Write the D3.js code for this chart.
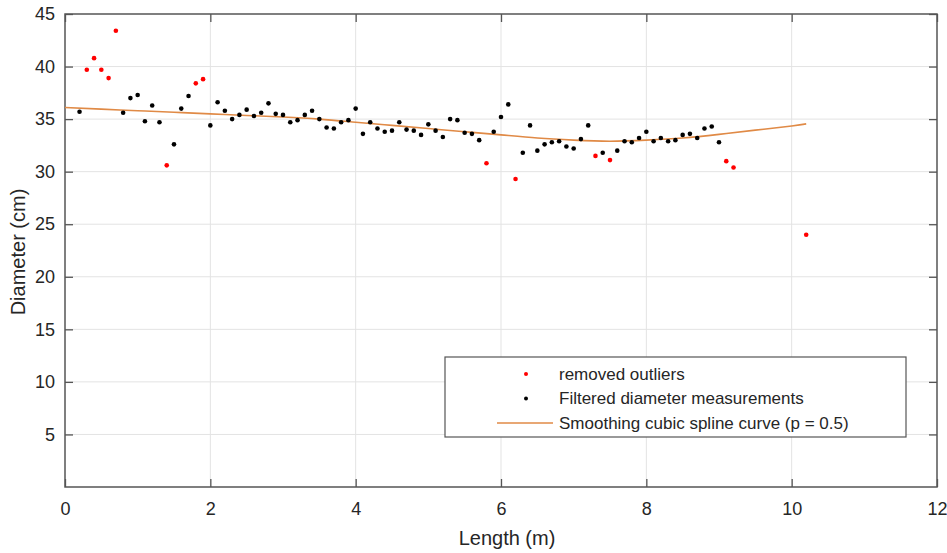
<!DOCTYPE html>
<html>
<head>
<meta charset="utf-8">
<script src="https://cdn.jsdelivr.net/npm/d3@7"></script>
<style>
  body { margin: 0; background: #fff; }
  svg { font-family: "Liberation Sans", Arial, sans-serif; }
</style>
</head>
<body>
<svg id="chart" width="947" height="553"></svg>
<script>
// filtered diameter measurements (m, cm)
const keptX = [0.2, 0.8, 0.9, 1.0, 1.1, 1.2, 1.3, 1.5, 1.6, 1.7, 2.0, 2.1, 2.2, 2.3, 2.4,
  2.5, 2.6, 2.7, 2.8, 2.9, 3.0, 3.1, 3.2, 3.3, 3.4, 3.5, 3.6, 3.7, 3.8, 3.9,
  4.0, 4.1, 4.2, 4.3, 4.4, 4.5, 4.6, 4.7, 4.8, 4.9, 5.0, 5.1, 5.2, 5.3, 5.4,
  5.5, 5.6, 5.7, 5.9, 6.0, 6.1, 6.3, 6.4, 6.5, 6.6, 6.7, 6.8, 6.9, 7.0, 7.1,
  7.2, 7.4, 7.6, 7.7, 7.8, 7.9, 8.0, 8.1, 8.2, 8.3, 8.4, 8.5, 8.6, 8.7, 8.8,
  8.9, 9.0];
const keptY = [35.7, 35.6, 37.0, 37.3, 34.8, 36.3, 34.7, 32.6, 36.0, 37.2, 34.4, 36.6, 35.8, 35.0, 35.4,
  35.9, 35.3, 35.6, 36.5, 35.5, 35.4, 34.7, 34.9, 35.4, 35.8, 35.0, 34.2, 34.1, 34.7, 34.9,
  36.0, 33.6, 34.7, 34.1, 33.8, 33.9, 34.7, 34.0, 33.9, 33.5, 34.5, 33.9, 33.3, 35.0, 34.9,
  33.7, 33.6, 33.0, 33.8, 35.2, 36.4, 31.8, 34.4, 32.0, 32.6, 32.8, 32.9, 32.4, 32.2, 33.1,
  34.4, 31.8, 32.0, 32.9, 32.8, 33.2, 33.8, 32.9, 33.2, 32.9, 33.0, 33.5, 33.6, 33.2, 34.1,
  34.3, 32.8];

// removed outliers
const outX = [0.3, 0.4, 0.5, 0.6, 0.7, 1.4, 1.8, 1.9, 5.8, 6.2, 7.3, 7.5, 9.1, 9.2, 10.2];
const outY = [39.7, 40.8, 39.7, 38.9, 43.4, 30.6, 38.4, 38.8, 30.8, 29.3, 31.5, 31.1, 31.0, 30.4, 24.0];

// smoothing spline samples
const splX = [0, 0.5, 1, 1.5, 2, 2.5, 3, 3.5, 4, 4.5, 5, 5.5, 6, 6.5, 7, 7.5, 8, 8.5, 9, 9.5, 10, 10.2];
const splY = [36.1, 35.95, 35.8, 35.65, 35.5, 35.35, 35.2, 35.0, 34.7, 34.4, 34.1, 33.8, 33.5, 33.2,
  33.0, 32.9, 33.0, 33.2, 33.55, 33.95, 34.35, 34.55];

const xTicks = [0, 2, 4, 6, 8, 10, 12];
const yTicks = [5, 10, 15, 20, 25, 30, 35, 40, 45];

const mLeft = 65, mRight = 937, mTop = 14, mBottom = 487;
const axisColor = "#555";

const svg = d3.select("#chart");
const x = d3.scaleLinear().domain([0, 12]).range([mLeft, mRight]);
const y = d3.scaleLinear().domain([0, 45]).range([mBottom, mTop]);

// grid
svg.append("g").selectAll("line").data(xTicks.slice(1, -1)).join("line")
  .attr("x1", d => x(d)).attr("x2", d => x(d))
  .attr("y1", mTop).attr("y2", mBottom)
  .attr("stroke", "#e3e3e3").attr("stroke-width", 1);
svg.append("g").selectAll("line").data(yTicks.slice(0, -1)).join("line")
  .attr("y1", d => y(d)).attr("y2", d => y(d))
  .attr("x1", mLeft).attr("x2", mRight)
  .attr("stroke", "#e3e3e3").attr("stroke-width", 1);

// axes (ticks inward, box all round)
const axB = svg.append("g").attr("transform", `translate(0,${mBottom})`)
  .call(d3.axisBottom(x).tickValues(xTicks).tickSize(-8).tickPadding(15).tickFormat(d3.format("d")));
const axT = svg.append("g").attr("transform", `translate(0,${mTop})`)
  .call(d3.axisTop(x).tickValues(xTicks).tickSize(-8).tickFormat(""));
const axL = svg.append("g").attr("transform", `translate(${mLeft},0)`)
  .call(d3.axisLeft(y).tickValues(yTicks).tickSize(-8).tickPadding(10).tickFormat(d3.format("d")));
const axR = svg.append("g").attr("transform", `translate(${mRight},0)`)
  .call(d3.axisRight(y).tickValues(yTicks).tickSize(-8).tickFormat(""));

[axB, axT, axL, axR].forEach(g => {
  g.selectAll("line").attr("stroke", axisColor).attr("stroke-width", 1.3);
  g.select(".domain").remove();
  g.selectAll("text").attr("fill", "#262626").style("font-size", "18px");
});

// frame
svg.append("rect").attr("x", mLeft).attr("y", mTop)
  .attr("width", mRight - mLeft).attr("height", mBottom - mTop)
  .attr("fill", "none").attr("stroke", axisColor).attr("stroke-width", 1.5);

// axis titles
svg.append("text").attr("x", 507).attr("y", 545)
  .attr("text-anchor", "middle").attr("fill", "#262626").style("font-size", "20px")
  .text("Length (m)");
svg.append("text").attr("transform", `translate(25,252) rotate(-90)`)
  .attr("text-anchor", "middle").attr("fill", "#262626").style("font-size", "20px")
  .text("Diameter (cm)");

// spline
const splColor = "#e08a46";
svg.append("path")
  .datum(splX.map((d, i) => [d, splY[i]]))
  .attr("fill", "none").attr("stroke", splColor).attr("stroke-width", 1.6)
  .attr("d", d3.line().x(d => x(d[0])).y(d => y(d[1])).curve(d3.curveNatural));

// points
svg.append("g").selectAll("circle").data(keptX).join("circle")
  .attr("cx", d => x(d)).attr("cy", (d, i) => y(keptY[i])).attr("r", 2.3).attr("fill", "#000");
svg.append("g").selectAll("circle").data(outX).join("circle")
  .attr("cx", d => x(d)).attr("cy", (d, i) => y(outY[i])).attr("r", 2.3).attr("fill", "#ff0000");

// legend
const lg = svg.append("g");
lg.append("rect").attr("x", 445).attr("y", 357).attr("width", 461).attr("height", 80)
  .attr("fill", "#fff").attr("stroke", axisColor).attr("stroke-width", 1.2);
const items = [
  { label: "removed outliers", type: "dot", color: "#ff0000" },
  { label: "Filtered diameter measurements", type: "dot", color: "#000" },
  { label: "Smoothing cubic spline curve (p = 0.5)", type: "line", color: splColor }
];
items.forEach((it, i) => {
  const cy = 374 + i * 24.5;
  if (it.type === "dot") {
    lg.append("circle").attr("cx", 526).attr("cy", cy).attr("r", 2).attr("fill", it.color);
  } else {
    lg.append("line").attr("x1", 497).attr("x2", 553).attr("y1", cy).attr("y2", cy)
      .attr("stroke", it.color).attr("stroke-width", 1.6);
  }
  lg.append("text").attr("x", 559).attr("y", cy).attr("dy", "0.35em")
    .attr("fill", "#262626").style("font-size", "17px").text(it.label);
});
</script>
</body>
</html>
